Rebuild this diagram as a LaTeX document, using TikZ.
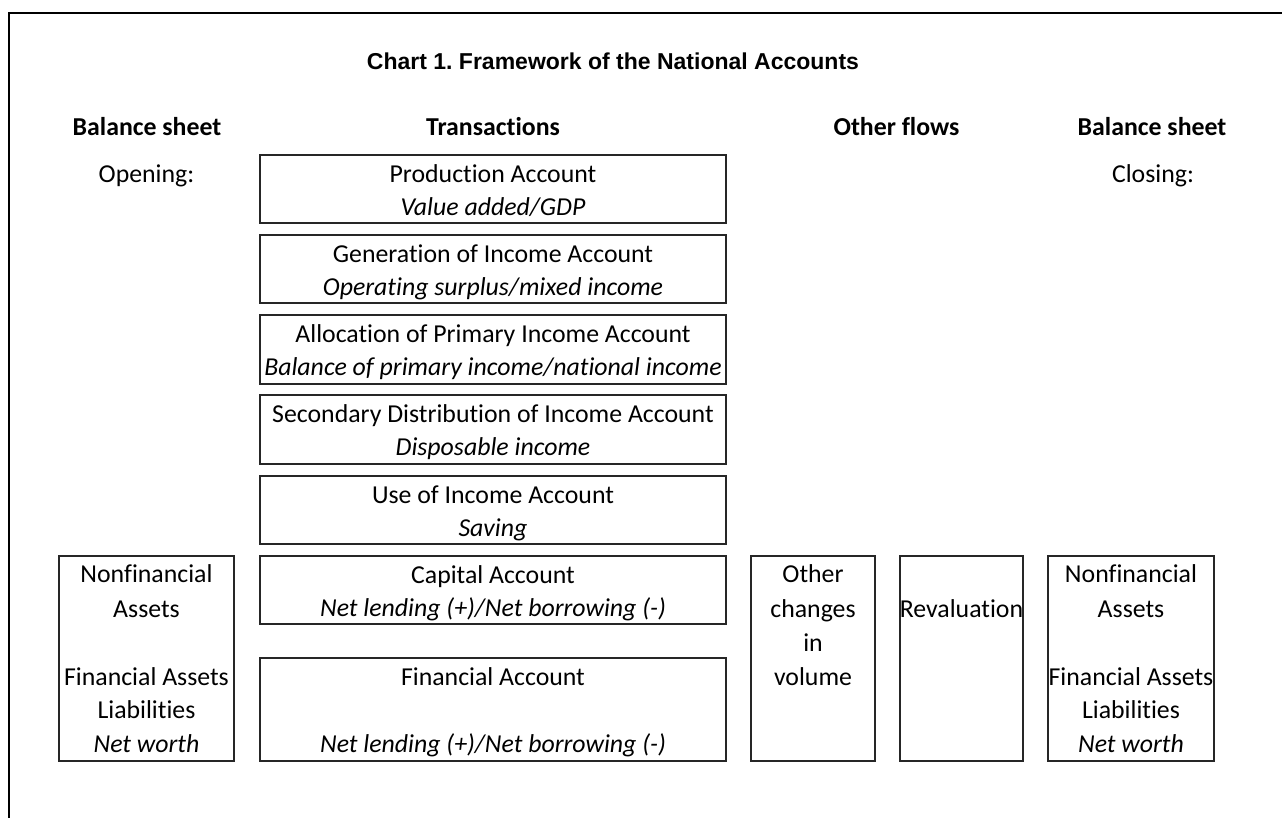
\documentclass[tikz,border=0pt]{standalone}
\usepackage{fontspec}
\setmainfont{Carlito}[Ligatures=NoCommon]
\newfontfamily\titlefont{Liberation Sans}
\frenchspacing
\begin{document}
\begin{tikzpicture}[x=1pt,y=-1pt,
  acc/.style={draw=black!85,line width=1.4pt,rectangle,inner sep=0pt},
  txt/.style={anchor=base,inner sep=0pt,font=\fontsize{25.8}{30}\selectfont},
  hdr/.style={txt,font=\fontsize{25.8}{30}\selectfont\bfseries},
  itx/.style={txt,font=\fontsize{25.8}{30}\selectfont\itshape}]
\useasboundingbox (0,0) rectangle (1282,818);
\fill[white] (0,0) rectangle (1282,818);
% outer frame
\coordinate (fbl) at (9,818);
\coordinate (ftl) at (9,13);
\coordinate (ftr) at (1282,13);
\draw[line width=2.4pt] (fbl) -- (ftl) -- (ftr);
% title
\node[anchor=base,inner sep=0pt,font=\titlefont\fontsize{23}{27}\selectfont\bfseries] (title) at (613,70) {Chart 1. Framework of the National Accounts};
% headers
\node[hdr] (h1) at (147,136) {Balance sheet};
\node[hdr] (h2) at (493,136) {Transactions};
\node[hdr] (h3) at (896.5,136) {Other flows};
\node[hdr] (h4) at (1152,136) {Balance sheet};
\node[txt] (open) at (146.5,182.5) {Opening:};
\node[txt] (close) at (1153,182.5) {Closing:};
% transaction boxes
\node[acc,minimum width=466pt,minimum height=68pt] (prod) at (493,189) {};
\node[acc,minimum width=466pt,minimum height=68pt] (gen) at (493,269) {};
\node[acc,minimum width=466pt,minimum height=69pt] (alloc) at (493,349.5) {};
\node[acc,minimum width=466pt,minimum height=69pt] (sec) at (493,429.5) {};
\node[acc,minimum width=466pt,minimum height=68pt] (use) at (493,510) {};
\node[acc,minimum width=466pt,minimum height=68pt] (cap) at (493,590) {};
\node[acc,minimum width=466pt,minimum height=103pt] (fin) at (493,709.5) {};
% side boxes
\node[acc,minimum width=175pt,minimum height=205pt] (bsl) at (146.5,658.5) {};
\node[acc,minimum width=124pt,minimum height=205pt] (ocv) at (813,658.5) {};
\node[acc,minimum width=123pt,minimum height=205pt] (rev) at (961.5,658.5) {};
\node[acc,minimum width=166pt,minimum height=205pt] (bsr) at (1131,658.5) {};
% transaction texts
\node[txt] (t1a) at (493,182.5) {Production Account};
\node[itx] (t1b) at (493,215.5) {Value added/GDP};
\node[txt] (t2a) at (493,262.5) {Generation of Income Account};
\node[itx] (t2b) at (493,295.5) {Operating surplus/mixed income};
\node[txt] (t3a) at (493,342.5) {Allocation of Primary Income Account};
\node[itx] (t3b) at (493,375.5) {Balance of primary income/national income};
\node[txt] (t4a) at (493,422.5) {Secondary Distribution of Income Account};
\node[itx] (t4b) at (493,455.5) {Disposable income};
\node[txt] (t5a) at (493,503.5) {Use of Income Account};
\node[itx] (t5b) at (493,536.5) {Saving};
\node[txt] (t6a) at (493,583.5) {Capital Account};
\node[itx] (t6b) at (493,616.5) {Net lending (+)/Net borrowing (-)};
\node[txt] (t7a) at (493,685) {Financial Account};
\node[itx] (t7b) at (493,752.5) {Net lending (+)/Net borrowing (-)};
% left balance sheet
\node[txt] (l1) at (146.5,582.5) {Nonfinancial};
\node[txt] (l2) at (146.5,617) {Assets};
\node[txt] (l3) at (146.5,685) {Financial Assets};
\node[txt] (l4) at (146.5,718.5) {Liabilities};
\node[itx] (l5) at (146.5,752.5) {Net worth};
% other changes
\node[txt] (o1) at (813,582.5) {Other};
\node[txt] (o2) at (813,617) {changes};
\node[txt] (o3) at (813,651) {in};
\node[txt] (o4) at (813,685) {volume};
\node[txt] (rv) at (961.5,617) {Revaluation};
% right balance sheet
\node[txt] (r1) at (1131,582.5) {Nonfinancial};
\node[txt] (r2) at (1131,617) {Assets};
\node[txt] (r3) at (1131,685) {Financial Assets};
\node[txt] (r4) at (1131,718.5) {Liabilities};
\node[itx] (r5) at (1131,752.5) {Net worth};
\end{tikzpicture}
\end{document}
